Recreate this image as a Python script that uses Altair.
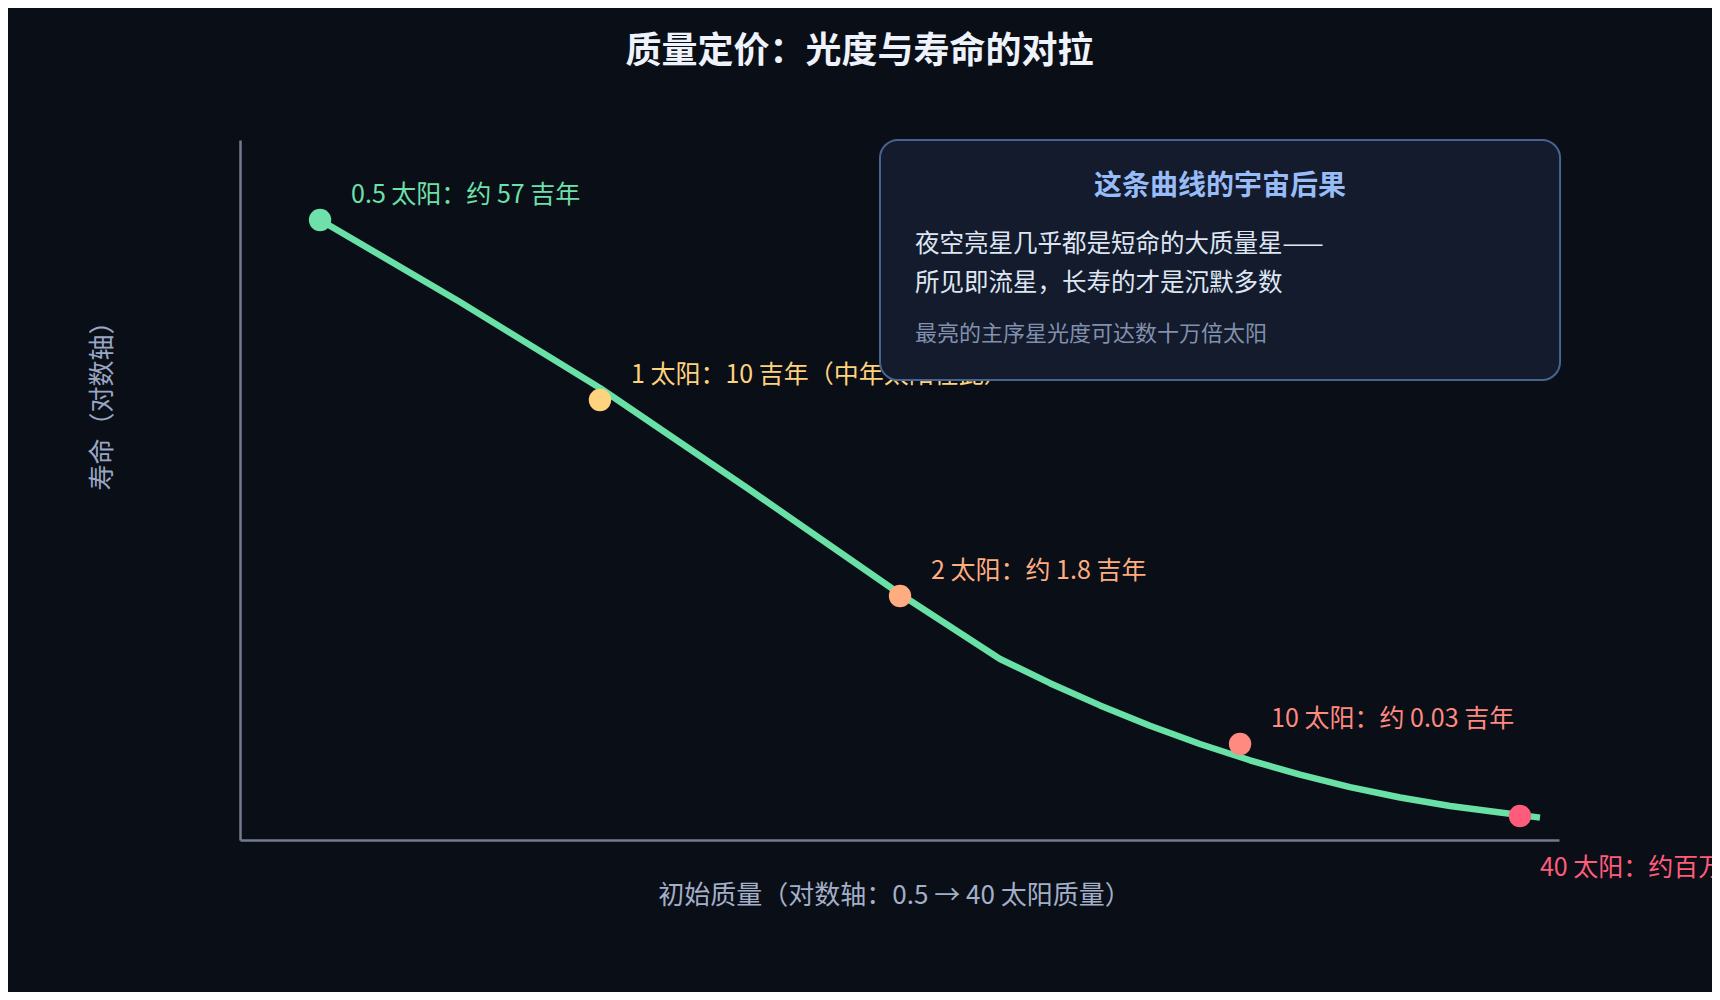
import altair as alt
import pandas as pd

FONT = "Noto Sans CJK SC"
BG = "#0a0e16"

# ---- data (axes carry no ticks, values are relative positions on the log axes) ----
masses = ["0.5", "1", "2", "10", "40"]
point_labels = [
    "0.5 太阳：约 57 吉年",
    "1 太阳：10 吉年（中年太阳在此）",
    "2 太阳：约 1.8 吉年",
    "10 太阳：约 0.03 吉年",
    "40 太阳：约百万年",
]
point_x = [6.07, 27.29, 50.04, 75.82, 97.04]
point_y = [88.57, 62.86, 34.86, 13.71, 3.43]
point_colors = ["#6ee0aa", "#ffd27d", "#ffad80", "#ff8a80", "#ff5c7c"]
label_colors = ["#6ee7b2", "#ffd27d", "#ffab7c", "#ff7d70", "#ff7f98"]

curve_x = [6.07, 16.68, 27.29, 38.67, 50.04, 57.62, 61.41, 65.20, 68.99, 72.78,
           76.57, 80.36, 84.15, 87.95, 91.74, 95.53, 98.56]
curve_y = [88.57, 76.86, 64.57, 50.00, 35.14, 25.86, 22.40, 19.23, 16.33, 13.71,
           11.39, 9.33, 7.56, 6.07, 4.86, 3.93, 3.20]

box_x = [48.52]
box_x2 = [100.08]
box_y = [100.0]
box_y2 = [65.71]

box_title = ["这条曲线的宇宙后果"]
box_title_x = [74.3]
box_title_y = [93.29]
box_lines = ["夜空亮星几乎都是短命的大质量星——", "所见即流星，长寿的才是沉默多数"]
box_lines_x = [51.18, 51.18]
box_lines_y = [85.0, 79.43]
box_note = ["最亮的主序星光度可达数十万倍太阳"]
box_note_x = [51.18]
box_note_y = [72.29]

# ---- tables ----
curve_df = pd.DataFrame({"x": curve_x, "y": curve_y})
pts_df = pd.DataFrame({"mass": masses, "label": point_labels, "x": point_x, "y": point_y})
box_df = pd.DataFrame({"x": box_x, "x2": box_x2, "y": box_y, "y2": box_y2})
bt_df = pd.DataFrame({"t": box_title, "x": box_title_x, "y": box_title_y})
bl_df = pd.DataFrame({"t": box_lines, "x": box_lines_x, "y": box_lines_y})
bn_df = pd.DataFrame({"t": box_note, "x": box_note_x, "y": box_note_y})

xs = alt.Scale(domain=[0, 100], nice=False, zero=False)
ys = alt.Scale(domain=[0, 100], nice=False, zero=False)

X = alt.X("x:Q", scale=xs, axis=alt.Axis(
    title="初始质量（对数轴：0.5 → 40 太阳质量）",
    titleX=654, titleY=55, titleBaseline="middle", titleAlign="center",
    titleColor="#a3afc9", titleFontSize=26, titleFontWeight="normal", titleFont=FONT,
    domain=True, domainColor="#737b8f", domainWidth=2.5,
    ticks=False, labels=False, grid=False))
Y = alt.Y("y:Q", scale=ys, axis=alt.Axis(
    title="寿命（对数轴）",
    titleX=-138, titleY=259, titleAngle=270, titleBaseline="middle", titleAlign="center",
    titleColor="#9aa6c4", titleFontSize=26, titleFontWeight="normal", titleFont=FONT,
    domain=True, domainColor="#737b8f", domainWidth=2.5,
    ticks=False, labels=False, grid=False))

pcolor = alt.Color("mass:N", scale=alt.Scale(domain=masses, range=point_colors), legend=None)
lcolor = alt.Color("mass:N", scale=alt.Scale(domain=masses, range=label_colors), legend=None)

curve = alt.Chart(curve_df).mark_line(color="#68e0a6", strokeWidth=6.5, interpolate="linear",
                                      strokeJoin="round").encode(x=X, y=Y)

points = alt.Chart(pts_df).mark_circle(size=500, opacity=1).encode(x="x:Q", y="y:Q", color=pcolor)

labels_a = alt.Chart(pts_df).transform_filter(alt.datum.mass != "40").mark_text(
    align="left", baseline="middle", dx=31, dy=-25, fontSize=25, font=FONT
).encode(x="x:Q", y="y:Q", text="label:N", color=lcolor)

labels_b = alt.Chart(pts_df).transform_filter(alt.datum.mass == "40").mark_text(
    align="left", baseline="middle", dx=20, dy=52, fontSize=25, font=FONT
).encode(x="x:Q", y="y:Q", text="label:N", color=lcolor)

box = alt.Chart(box_df).mark_rect(
    fill="#131b2c", stroke="#46648f", strokeWidth=2, cornerRadius=18
).encode(x="x:Q", x2="x2:Q", y="y:Q", y2="y2:Q")

btitle = alt.Chart(bt_df).mark_text(
    align="center", baseline="middle", fontSize=28, fontWeight="bold", font=FONT, color="#98bcf8"
).encode(x="x:Q", y="y:Q", text="t:N")

blines = alt.Chart(bl_df).mark_text(
    align="left", baseline="middle", fontSize=24.5, font=FONT, color="#dfe6f3"
).encode(x="x:Q", y="y:Q", text="t:N")

bnote = alt.Chart(bn_df).mark_text(
    align="left", baseline="middle", fontSize=22, font=FONT, color="#8290ad"
).encode(x="x:Q", y="y:Q", text="t:N")

chart = alt.layer(curve, points, labels_a, labels_b, box, btitle, blines, bnote).properties(
    width=1319, height=700,
    autosize=alt.AutoSizeParams(type="none"),
    padding={"left": 232, "top": 132, "right": 153, "bottom": 152},
    background=BG,
    title=alt.TitleParams(
        text="质量定价：光度与寿命的对拉", fontSize=36, fontWeight="bold", color="#eef2fa",
        font=FONT, anchor="middle", frame="group", dx=-40, offset=51, baseline="middle"),
).configure_view(stroke=None)

chart.save("out.html", embed_options={"renderer": "svg", "actions": False})
